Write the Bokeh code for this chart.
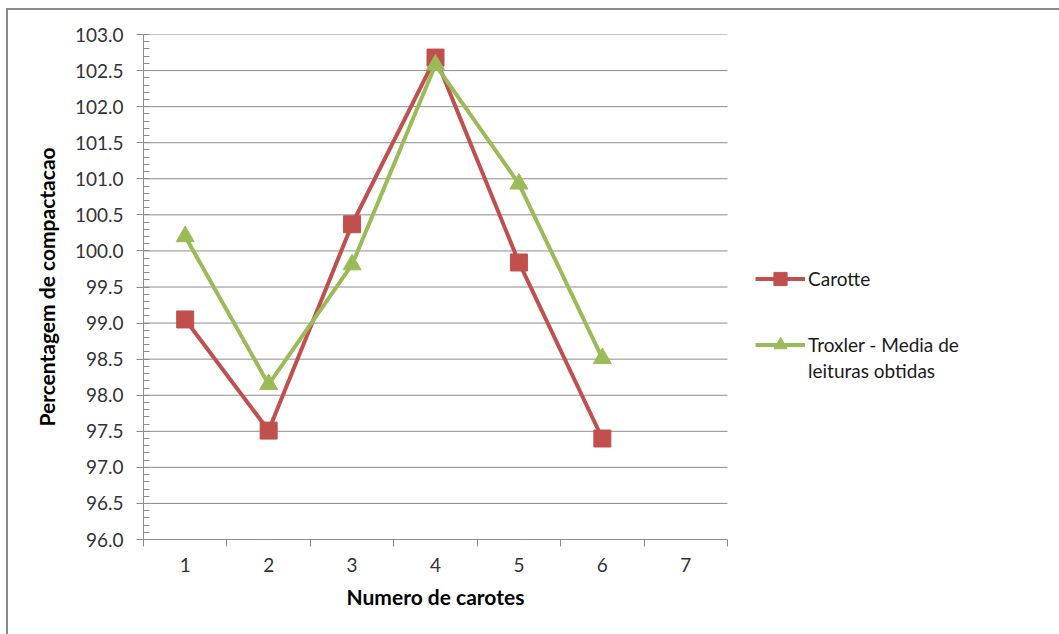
from bokeh.plotting import figure
from bokeh.models import Range1d, FixedTicker, Legend, LegendItem, Title
from bokeh.embed import file_html
from bokeh.resources import INLINE

categories = ["1", "2", "3", "4", "5", "6", "7"]
carotte = [99.05, 97.51, 100.37, 102.68, 99.84, 97.40]
troxler = [100.20, 98.15, 99.81, 102.58, 100.93, 98.51]
y_ticks = [96.0, 96.5, 97.0, 97.5, 98.0, 98.5, 99.0, 99.5, 100.0, 100.5,
           101.0, 101.5, 102.0, 102.5, 103.0]
y_tick_labels = ["%.1f" % v for v in y_ticks]

RED = "#C0504D"
GREEN = "#9BBB59"
GRID = "#8C8C8C"
FONT = "Lato"

n = len(categories)
x_pos = list(range(1, n + 1))
# plot area for the categories is 584 px wide; the frame extends to the right
# edge so that the legend (outside the category area) is not clipped
cat_px = 584.0 / n
frame_px = 1059 - 143
x_end = 0.5 + frame_px / cat_px

p = figure(width=1051, height=624, output_backend="svg", toolbar_location=None,
           x_range=Range1d(0.5, x_end), y_range=Range1d(96, 103),
           min_border_left=135, min_border_right=0, min_border_top=24,
           min_border_bottom=95, margin=(10, 0, 0, 8))
p.styles = {"outline": "2px solid #888888"}
p.outline_line_color = None
p.background_fill_color = "white"
p.border_fill_color = "white"

# x axis
p.xaxis.bounds = (0.5, n + 0.5)
p.xaxis.ticker = FixedTicker(ticks=x_pos, minor_ticks=[i + 0.5 for i in range(0, n + 1)])
p.xaxis.major_label_overrides = {i: c for i, c in zip(x_pos, categories)}
p.xaxis.major_tick_out = 0
p.xaxis.major_tick_in = 0
p.xaxis.minor_tick_out = 7
p.xaxis.minor_tick_in = 0
p.xaxis.minor_tick_line_color = GRID
p.xaxis.axis_line_color = GRID
p.xaxis.major_label_standoff = 11
p.xgrid.grid_line_color = None

# x axis title, centred under the category area
xtitle = Title(text="Numero de carotes", align="left", offset=203, standoff=15,
               text_font=FONT, text_font_size="21px", text_font_style="bold",
               text_color="#000000")
p.add_layout(xtitle, "below")

# y axis
p.yaxis.bounds = (96, 103)
p.yaxis.ticker = FixedTicker(ticks=y_ticks, minor_ticks=[96 + 0.1 * i for i in range(71)])
p.yaxis.major_label_overrides = {v: s for v, s in zip(y_ticks, y_tick_labels)}
p.yaxis.major_tick_out = 7
p.yaxis.major_tick_in = 0
p.yaxis.minor_tick_out = 0
p.yaxis.minor_tick_in = 6
p.yaxis.minor_tick_line_color = GRID
p.yaxis.major_tick_line_color = GRID
p.yaxis.axis_line_color = GRID
p.yaxis.major_label_standoff = 13
p.yaxis.axis_label = "Percentagem de compactacao"
p.yaxis.axis_label_standoff = 13
p.ygrid.grid_line_color = None

for ax in (p.xaxis, p.yaxis):
    ax.major_label_text_font = FONT
    ax.major_label_text_font_size = "19px"
    ax.major_label_text_color = "#333333"
    ax.axis_label_text_font = FONT
    ax.axis_label_text_font_size = "21px"
    ax.axis_label_text_font_style = "bold"
    ax.axis_label_text_color = "#000000"

# horizontal gridlines over the category area only
p.segment(x0=0.5, x1=n + 0.5, y0=y_ticks[1:], y1=y_ticks[1:],
          line_color=GRID, line_width=1)

# series
r1l = p.line(x_pos[:len(carotte)], carotte, line_color=RED, line_width=4)
r1m = p.scatter(x_pos[:len(carotte)], carotte, marker="square", size=17,
                fill_color=RED, line_color=RED)
r2l = p.line(x_pos[:len(troxler)], troxler, line_color=GREEN, line_width=4)
r2m = p.scatter(x_pos[:len(troxler)], troxler, marker="triangle", size=18,
                fill_color=GREEN, line_color=GREEN)
blank = p.line(x=[1, 1], y=[96, 96], line_alpha=0)


def make_legend(items, loc):
    lg = Legend(items=items, location=loc, glyph_width=50, glyph_height=33,
                label_standoff=3, spacing=0, padding=0, margin=0,
                label_height=26, border_line_color=None,
                background_fill_alpha=0, label_text_font=FONT,
                label_text_font_size="19px", label_text_color="#1a1a1a")
    p.add_layout(lg, "center")
    return lg


make_legend([LegendItem(label="Carotte", renderers=[r1l, r1m])], (612, 244))
make_legend([LegendItem(label="Troxler - Media de", renderers=[r2l, r2m])], (612, 178))
make_legend([LegendItem(label="leituras obtidas", renderers=[blank])], (612, 152))

open("out.html", "w").write(file_html(p, INLINE))
